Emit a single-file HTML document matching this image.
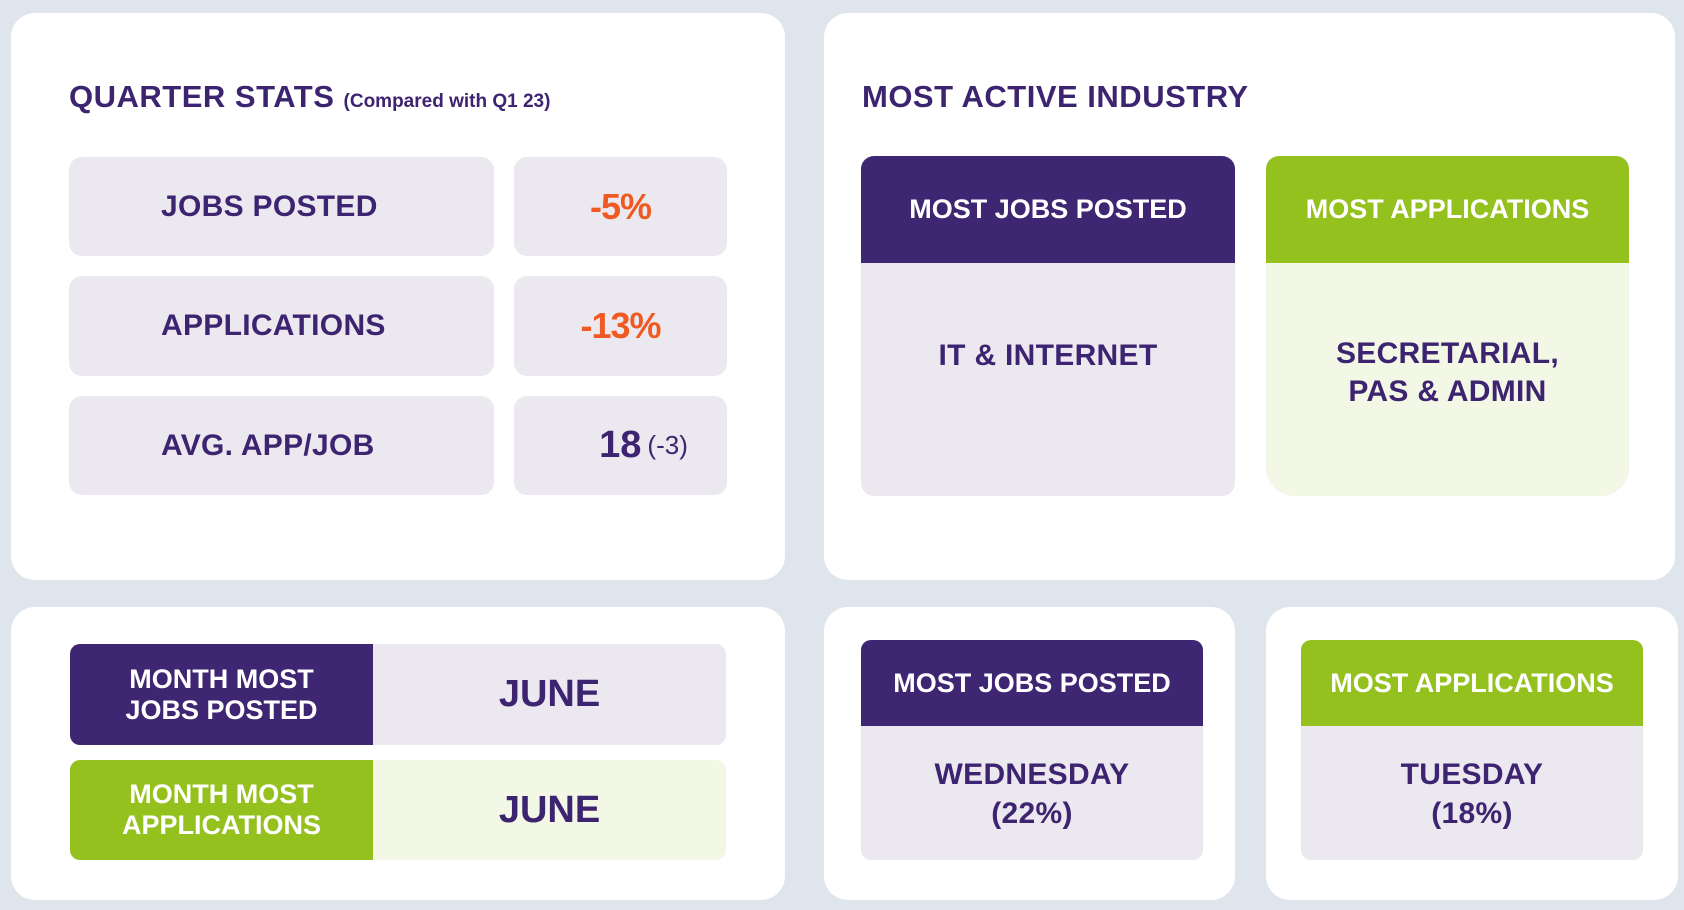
<!DOCTYPE html>
<html><head><meta charset="utf-8"><style>
*{margin:0;padding:0;box-sizing:border-box}
body{width:1684px;height:910px;background:#dfe5ec;font-family:"Liberation Sans",sans-serif;font-weight:bold;color:#3d2470;position:relative;overflow:hidden}
.abs{position:absolute}
.card{position:absolute;background:#fff;border-radius:24px}
.box{position:absolute;background:#ebe8f0;border-radius:13px;display:flex;align-items:center;justify-content:center;text-align:center}
.t{font-size:31px;letter-spacing:0.5px}
.lbl{font-size:30px;letter-spacing:0.3px}
.left{justify-content:flex-start;padding-left:92px}
.org{color:#f05a22;font-size:36px;letter-spacing:-1px}
.hdr{color:#fff;font-size:27px;display:flex;align-items:center;justify-content:center;text-align:center}
.pur{background:#3f2672}.grn{background:#95c11f}
</style></head><body>
<div class="card" style="left:11px;top:13px;width:774px;height:567px"></div>
<div class="card" style="left:824px;top:13px;width:851px;height:567px"></div>
<div class="card" style="left:11px;top:607px;width:774px;height:293px"></div>
<div class="card" style="left:824px;top:607px;width:411px;height:293px"></div>
<div class="card" style="left:1266px;top:607px;width:412px;height:293px"></div>

<div class="abs t" style="left:69px;top:79px">QUARTER STATS <span style="font-size:19px;letter-spacing:0">(Compared with Q1 23)</span></div>
<div class="box lbl left" style="left:69px;top:157px;width:425px;height:99px">JOBS POSTED</div>
<div class="box org" style="left:514px;top:157px;width:213px;height:99px">-5%</div>
<div class="box lbl left" style="left:69px;top:276px;width:425px;height:100px">APPLICATIONS</div>
<div class="box org" style="left:514px;top:276px;width:213px;height:100px">-13%</div>
<div class="box lbl left" style="left:69px;top:396px;width:425px;height:99px">AVG. APP/JOB</div>
<div class="box" style="left:514px;top:396px;width:213px;height:99px;padding-left:46px"><span style="font-size:38px">18</span><span style="font-size:26px;font-weight:normal;margin-left:6px">(-3)</span></div>

<div class="abs t" style="left:862px;top:79px">MOST ACTIVE INDUSTRY</div>
<div class="abs" style="left:861px;top:156px;width:374px;height:340px;background:#ebe8f0;border-radius:13px;overflow:hidden">
 <div class="hdr pur" style="height:107px">MOST JOBS POSTED</div>
 <div class="lbl" style="text-align:center;margin-top:76px">IT &amp; INTERNET</div>
</div>
<div class="abs" style="left:1266px;top:156px;width:363px;height:340px;background:#f3f7e6;border-radius:13px 13px 28px 28px;overflow:hidden">
 <div class="hdr grn" style="height:107px">MOST APPLICATIONS</div>
 <div class="lbl" style="text-align:center;margin-top:72px;line-height:38px">SECRETARIAL,<br>PAS &amp; ADMIN</div>
</div>

<div class="abs" style="left:70px;top:644px;width:656px;height:101px;background:#ebe8f0;border-radius:10px;overflow:hidden">
 <div class="hdr pur abs" style="left:0;top:0;width:303px;height:101px;font-size:27px;line-height:31px">MONTH MOST<br>JOBS POSTED</div>
 <div class="abs" style="left:303px;width:353px;height:101px;display:flex;align-items:center;justify-content:center;font-size:38px">JUNE</div>
</div>
<div class="abs" style="left:70px;top:760px;width:656px;height:100px;background:#f3f7e6;border-radius:10px;overflow:hidden">
 <div class="hdr grn abs" style="left:0;top:0;width:303px;height:100px;font-size:27px;line-height:31px">MONTH MOST<br>APPLICATIONS</div>
 <div class="abs" style="left:303px;width:353px;height:100px;display:flex;align-items:center;justify-content:center;font-size:38px">JUNE</div>
</div>

<div class="abs" style="left:861px;top:640px;width:342px;height:220px;background:#ebe8f0;border-radius:10px;overflow:hidden">
 <div class="hdr pur" style="height:86px">MOST JOBS POSTED</div>
 <div class="lbl" style="text-align:center;margin-top:29px;line-height:39px">WEDNESDAY<br>(22%)</div>
</div>
<div class="abs" style="left:1301px;top:640px;width:342px;height:220px;background:#ebe8f0;border-radius:10px;overflow:hidden">
 <div class="hdr grn" style="height:86px">MOST APPLICATIONS</div>
 <div class="lbl" style="text-align:center;margin-top:29px;line-height:39px">TUESDAY<br>(18%)</div>
</div>
</body></html>
